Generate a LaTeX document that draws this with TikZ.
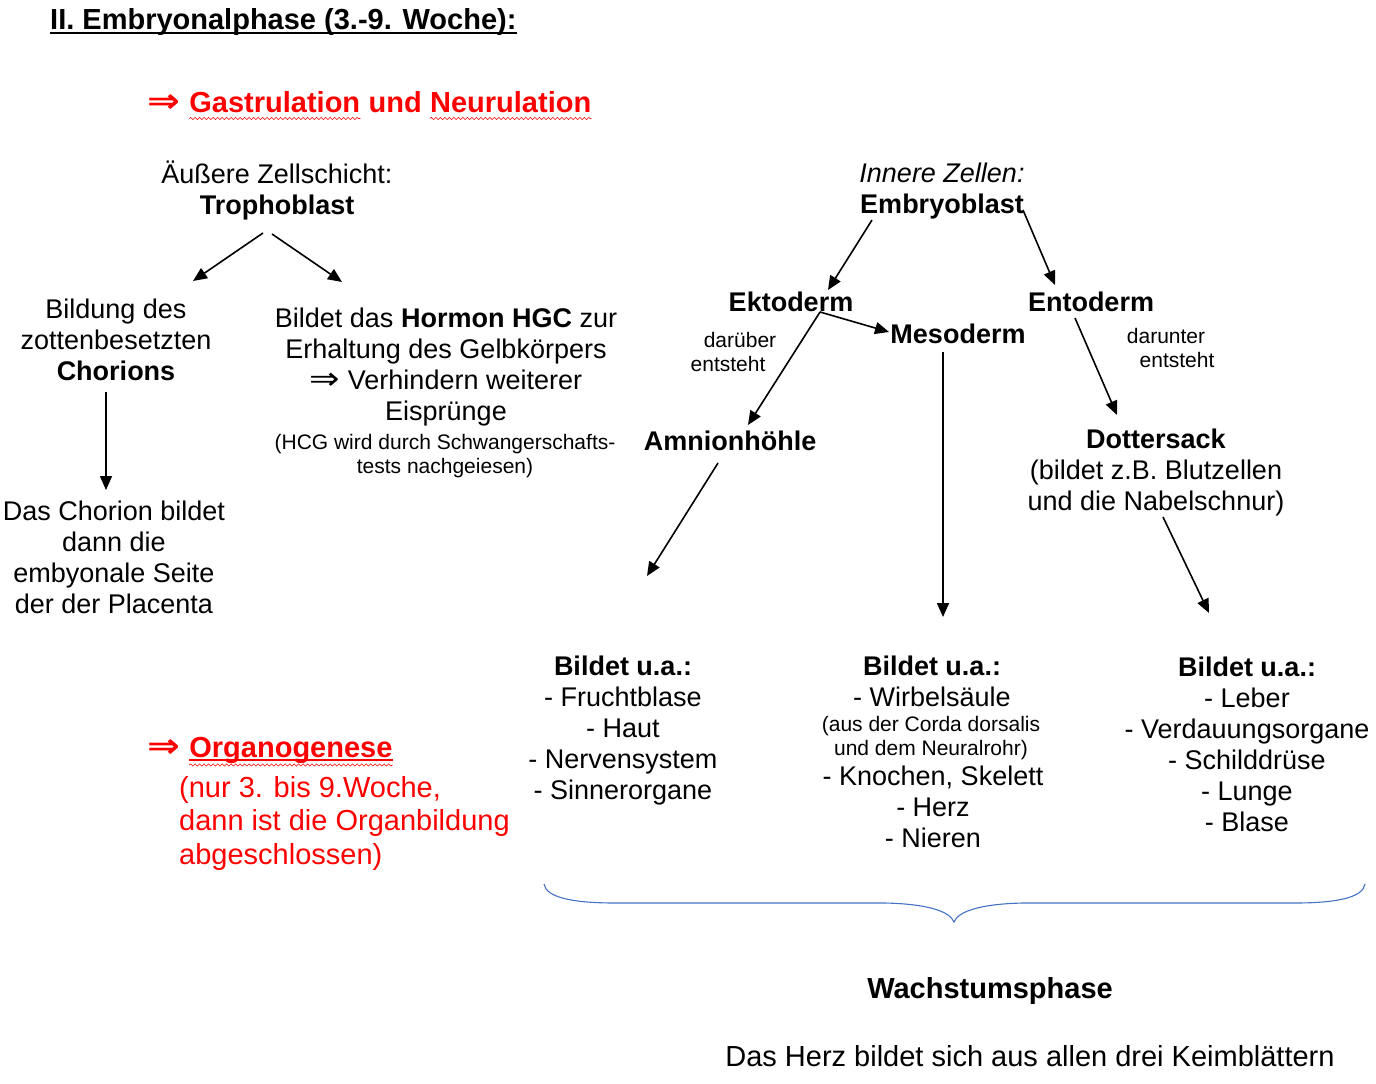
\documentclass[tikz,border=0pt]{standalone}
\usepackage{graphicx}
\usepackage{fontspec}
\setmainfont{Liberation Sans}
\newfontfamily\symfont{DejaVu Sans}
\usetikzlibrary{arrows.meta,decorations.pathmorphing,calc}
\definecolor{bracecol}{RGB}{68,114,196}
\definecolor{wordred}{RGB}{255,0,0}
\newcommand{\mlc}[1]{\begin{tabular}[t]{@{}c@{}}#1\end{tabular}}
\newcommand{\mll}[1]{\begin{tabular}[t]{@{}l@{}}#1\end{tabular}}
\newcommand{\implarrow}{\scalebox{1.35}[1.15]{\symfont ⇒}}
\tikzset{
  txt/.style={inner sep=0pt, anchor=base, font=\fontsize{27}{31}\selectfont},
  big/.style={inner sep=0pt, font=\fontsize{29}{33.5}\selectfont},
  redhead/.style={inner sep=0pt, anchor=base west, text=wordred, font=\fontsize{29}{33.5}\selectfont\bfseries},
  small/.style={inner sep=0pt, anchor=base, font=\fontsize{21}{24}\selectfont},
  arr/.style={line width=1.6pt, -{Triangle[length=14pt,width=12pt]}},
  squig/.style={wordred, line width=0.6pt, decorate, decoration={snake, amplitude=1.1pt, segment length=4.5pt}},
}
\begin{document}
\begin{tikzpicture}[x=1pt,y=-1pt]
\useasboundingbox (0,0) rectangle (1376,1084);
% title
\node[big, anchor=base west, font=\fontsize{29}{33.5}\selectfont\bfseries] (title) at (50,29) {II. Embryonalphase (3.-9. Woche):};
\draw[line width=2pt] ($(title.base west)+(0,4)$) -- ($(title.base east)+(0,4)$);
% heading
\node[redhead] (garr) at (147,112) {\implarrow};
\node[redhead] (gast) at ($(garr.base east)+(9,0)$) {Gastrulation};
\node[redhead] (und) at ($(gast.base east)+(8,0)$) {und};
\node[redhead] (neur) at ($(und.base east)+(8,0)$) {Neurulation};
\draw[squig] ($(gast.base west)+(0,6.5)$) -- ($(gast.base east)+(0,6.5)$);
\draw[squig] ($(neur.base west)+(0,6.5)$) -- ($(neur.base east)+(0,6.5)$);
% left tree
\node[txt] (troph) at (277,183) {\mlc{Äußere Zellschicht:\\\textbf{Trophoblast}}};
\node[txt] (bild) at (116,318) {\mlc{Bildung des\\zottenbesetzten\\\textbf{Chorions}}};
\node[txt] (chorion) at (114,520) {\mlc{Das Chorion bildet\\dann die\\embyonale Seite\\der der Placenta}};
\node[txt] (hormon) at (446,327) {\mlc{Bildet das \textbf{Hormon HGC} zur\\Erhaltung des Gelbkörpers\\\implarrow\ Verhindern weiterer\\Eisprünge}};
\node[small] (hcg) at (445,449) {\mlc{(HCG wird durch Schwangerschafts-\\tests nachgeiesen)}};
\coordinate (t1) at (263,233); \coordinate (b1) at (193,281);
\coordinate (t2) at (272,234); \coordinate (h1) at (342,282);
\coordinate (c1) at (106,392); \coordinate (c2) at (106,490);
\draw[arr] (t1) -- (b1);
\draw[arr] (t2) -- (h1);
\draw[arr] (c1) -- (c2);
% right tree
\node[txt] (embryo) at (942,182) {\mlc{\textit{Innere Zellen:}\\\textbf{Embryoblast}}};
\node[txt, font=\fontsize{27}{31}\selectfont\bfseries] (ekto) at (791,311) {Ektoderm};
\node[txt, font=\fontsize{27}{31}\selectfont\bfseries] (ento) at (1091,311) {Entoderm};
\node[txt, font=\fontsize{27}{31}\selectfont\bfseries] (meso) at (958,343) {Mesoderm};
\node[small] (darA) at (740,347) {darüber};
\node[small] (darB) at (728,371) {entsteht};
\node[small] (dunA) at (1166,343) {darunter};
\node[small] (dunB) at (1177,367) {entsteht};
\node[txt, font=\fontsize{27}{31}\selectfont\bfseries] (amnion) at (730,450) {Amnionhöhle};
\node[txt] (dotter) at (1156,448) {\mlc{\textbf{Dottersack}\\(bildet z.B. Blutzellen\\und die Nabelschnur)}};
\coordinate (e1) at (872,220); \coordinate (e2) at (828,290);
\coordinate (e3) at (1023,210); \coordinate (e4) at (1055,285);
\coordinate (k0) at (820,312); \coordinate (k1) at (889,332); \coordinate (k2) at (748,425);
\coordinate (n1) at (1075,318); \coordinate (n2) at (1117,415);
\coordinate (m1) at (943,352); \coordinate (m2) at (943,617);
\coordinate (a1) at (718,463); \coordinate (a2) at (647,576);
\coordinate (d1) at (1163,517); \coordinate (d2) at (1209,613);
\draw[arr] (e1) -- (e2);
\draw[arr] (e3) -- (e4);
\draw[arr] (k0) -- (k1);
\draw[arr] (k0) -- (k2);
\draw[arr] (n1) -- (n2);
\draw[arr] (m1) -- (m2);
\draw[arr] (a1) -- (a2);
\draw[arr] (d1) -- (d2);
% bottom lists
\node[txt] (listA) at (623,675) {\mlc{\textbf{Bildet u.a.:}\\- Fruchtblase\\- Haut\\- Nervensystem\\- Sinnerorgane}};
\node[txt] (listB) at (932,675) {\mlc{\textbf{Bildet u.a.:}\\- Wirbelsäule}};
\node[small] (listBs) at (931,731) {\mlc{(aus der Corda dorsalis\\und dem Neuralrohr)}};
\node[txt] (listBc) at (933,785) {\mlc{- Knochen, Skelett\\- Herz\\- Nieren}};
\node[txt] (listC) at (1247,676) {\mlc{\textbf{Bildet u.a.:}\\- Leber\\- Verdauungsorgane\\- Schilddrüse\\- Lunge\\- Blase}};
% organogenese
\node[redhead] (oarr) at (147,757) {\implarrow};
\node[redhead] (organo) at ($(oarr.base east)+(9,0)$) {Organogenese};
\draw[wordred, line width=1.5pt] ($(organo.base west)+(0,3)$) -- ($(organo.base east)+(0,3)$);
\draw[squig] ($(organo.base west)+(0,8)$) -- ($(organo.base east)+(0,8)$);
\node[big, anchor=base west, text=wordred] (nur) at (179,797) {\mll{(nur 3. bis 9.Woche,\\dann ist die Organbildung\\abgeschlossen)}};
% brace
\draw[bracecol, line width=1.1pt] (544,884) .. controls (546,898) and (575,903) .. (615,903) -- (885,903) .. controls (930,904) and (950,912) .. (954,922) .. controls (958,912) and (978,904) .. (1023,903) -- (1295,903) .. controls (1335,903) and (1363,898) .. (1365,884);
\node[big, anchor=base, font=\fontsize{29}{33.5}\selectfont\bfseries] (wachs) at (990,998) {Wachstumsphase};
\node[big, anchor=base] (herz) at (1030,1066) {Das Herz bildet sich aus allen drei Keimblättern};
\end{tikzpicture}
\end{document}
